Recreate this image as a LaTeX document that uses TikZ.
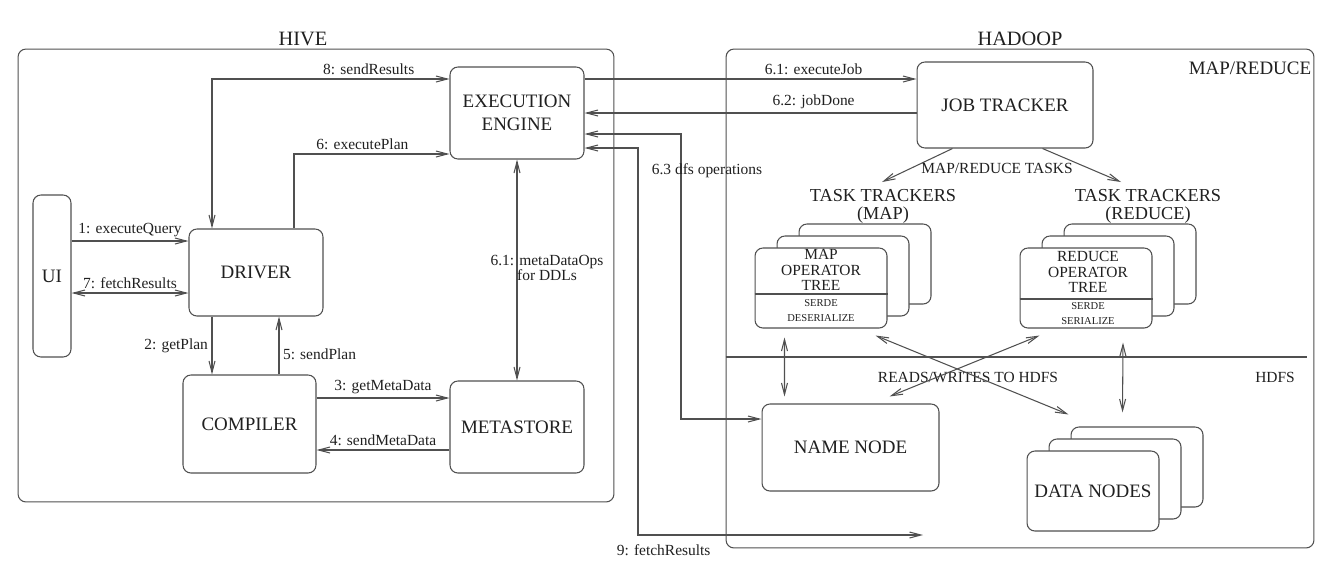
\documentclass[tikz,border=0pt]{standalone}
\usepackage{fontspec}
\setmainfont{Liberation Serif}
\usetikzlibrary{arrows.meta}

\definecolor{linegray}{HTML}{505050}
\definecolor{inkgray}{HTML}{202020}
\newcommand{\boxtxt}{\fontsize{10.8}{13}\selectfont}
\newcommand{\tttxt}{\fontsize{10.4}{10.2}\selectfont}
\newcommand{\lbltxt}{\fontsize{8.8}{8.8}\selectfont}
\newcommand{\optxt}{\fontsize{8.8}{8.8}\selectfont}
\newcommand{\titletxt}{\fontsize{11.6}{13}\selectfont}
\newcommand{\serdetxt}{\fontsize{6}{8.5}\selectfont}

\begin{document}
\begin{tikzpicture}[x=0.02cm, y=-0.02cm, line width=0.6pt, color=linegray,
    >={Straight Barb[length=6.5pt,width=3.4pt]},
    every node/.style={text=inkgray},
    box/.style={draw=linegray, rounded corners=4.5pt, fill=white, font=\boxtxt, align=center, inner sep=0pt},
    stackbox/.style={box, minimum width=2.64cm, minimum height=1.6cm},
    lbl/.style={font=\lbltxt, inner sep=2pt},
    title/.style={font=\titletxt}]

    \useasboundingbox (0,0) rectangle (1337,579);

    % Draw the two outer boxes
    \node[box, fill=none, minimum width=11.92cm, minimum height=9.06cm] (hive) at (316,275.5) {};
    \node[box, fill=none, minimum width=11.76cm, minimum height=9.98cm] (hadoop) at (1020,298.5) {};
    \node[title] (hivetitle) at (303,39) {HIVE};
    \node[title] (hadooptitle) at (1020,39) {HADOOP};
    \node[font=\boxtxt] (mrlbl) at (1250,68) {MAP/REDUCE};

    % Draw the hive boxes
    \node[box, minimum width=0.76cm, minimum height=3.24cm] (ui) at (52,276) {UI};
    \node[box, minimum width=2.68cm, minimum height=1.74cm] (driver) at (256,272.5) {DRIVER};
    \node[box, minimum width=2.66cm, minimum height=1.96cm] (compiler) at (249.5,424) {COMPILER};
    \node[box, minimum width=2.68cm, minimum height=1.84cm] (exec) at (517,113) {EXECUTION\\ENGINE};
    \node[box, minimum width=2.68cm, minimum height=1.84cm] (metastore) at (517,427) {METASTORE};

    % Draw the hadoop boxes
    \node[box, minimum width=3.52cm, minimum height=1.72cm] (jobtracker) at (1005,105) {JOB TRACKER};
    \node[box, minimum width=3.54cm, minimum height=1.74cm] (namenode) at (850.5,447.5) {NAME NODE};
    \node[font=\tttxt, align=center] (maptt) at (883,206) {TASK TRACKERS\\(MAP)};
    \node[font=\tttxt, align=center] (redtt) at (1148,206) {TASK TRACKERS\\(REDUCE)};

    % Draw the stack of map task trackers
    \foreach \k in {2,1}
        \node[stackbox] (mapb\k) at ({821+22*\k},{288-12*\k}) {};
    \node[stackbox] (mapfront) at (821,288) {};
    \node[font=\optxt, align=center] (maptree) at (821,270) {MAP\\OPERATOR\\TREE};
    \draw (mapfront.west |- 0,294) -- (mapfront.east |- 0,294);
    \node[font=\serdetxt, align=center] (mapserde) at (821,310.5) {SERDE\\DESERIALIZE};

    % Draw the stack of reduce task trackers
    \foreach \k in {2,1}
        \node[stackbox] (redb\k) at ({1086+22*\k},{288-12*\k}) {};
    \node[stackbox] (redfront) at (1086,288) {};
    \node[font=\optxt, align=center] (redtree) at (1088,272) {REDUCE\\OPERATOR\\TREE};
    \draw (redfront.west |- 0,299) -- (redfront.east |- 0,299);
    \node[font=\serdetxt, align=center] (redserde) at (1088,314) {SERDE\\SERIALIZE};

    % Draw the stack of data nodes
    \foreach \k in {2,1}
        \node[stackbox] (datab\k) at ({1093+22*\k},{491-12*\k}) {};
    \node[stackbox] (datafront) at (1093,491) {DATA NODES};

    % Draw the arrows between UI and DRIVER
    \draw[->] (ui.east |- 0,241) -- (driver.west |- 0,241) node[lbl, midway, above] {1: executeQuery};
    \draw[<->] (ui.east |- 0,293) -- (driver.west |- 0,293) node[lbl, midway, above] {7: fetchResults};

    % Draw the arrows between DRIVER and EXECUTION ENGINE
    \draw[<->] (driver.north -| 212,0) |- (exec.west |- 0,79) node[lbl, pos=0.83, above] {8: sendResults};
    \draw[->] (driver.north -| 294,0) |- (exec.west |- 0,154) node[lbl, pos=0.72, above] {6: executePlan};

    % Draw the arrows between DRIVER and COMPILER
    \draw[->] (driver.south -| 212,0) -- (compiler.north -| 212,0) node[lbl, midway, left] {2: getPlan};
    \draw[->] (compiler.north -| 279,0) -- (driver.south -| 279,0) node[lbl, pos=0.35, right] {5: sendPlan};

    % Draw the arrows between COMPILER and METASTORE
    \draw[->] (compiler.east |- 0,398) -- (metastore.west |- 0,398) node[lbl, midway, above] {3: getMetaData};
    \draw[->] (metastore.west |- 0,450) -- (compiler.east |- 0,450) node[lbl, midway, above] {4: sendMetaData};

    % Draw the arrow between EXECUTION ENGINE and METASTORE
    \draw[<->] (exec.south) -- (metastore.north)
        node[lbl, pos=0.49, xshift=0.6cm, align=center] {6.1: metaDataOps\\for DDLs};

    % Draw the arrows between EXECUTION ENGINE and JOB TRACKER
    \draw[->] (exec.east |- 0,79) -- (jobtracker.west |- 0,79) node[lbl, pos=0.69, above] {6.1: executeJob};
    \draw[->] (jobtracker.west |- 0,113) -- (exec.east |- 0,113) node[lbl, pos=0.31, above] {6.2: jobDone};

    % Draw the dfs operations and the fetched results
    \coordinate (dfsbend) at (681,419);
    \draw[<->] (exec.east |- 0,134) -| (dfsbend) -- (namenode.west |- dfsbend);
    \node[lbl] (dfslbl) at (707,171) {6.3 dfs operations};
    \coordinate (fetchbend) at (638,535);
    \coordinate (fetchend) at (923,535);
    \draw[<->] (exec.east |- 0,148) -| (fetchbend) -- (fetchend)
        node[lbl, pos=0.09, below=3pt] {9: fetchResults};

    % Draw the tasks sent by the JOB TRACKER
    \coordinate (maptip) at (882,182);
    \coordinate (redtip) at (1121,182);
    \draw[->] ([xshift=0.72cm]jobtracker.south west) -- (maptip);
    \draw[->] ([xshift=-1.02cm]jobtracker.south east) -- (redtip);
    \node[lbl] (mrtasks) at (997,168) {MAP/REDUCE TASKS};

    % Draw the HDFS part
    \draw[shorten >=0.14cm] (hadoop.west |- 0,357) -- (hadoop.east |- 0,357);
    \node[lbl] (hdfslbl) at (1275,377) {HDFS};
    \node[lbl] (rwlbl) at (968,377) {READS/WRITES TO HDFS};

    % Draw the reads and writes to HDFS
    \draw[<->] ([shift={(30,9)}]mapfront.south west) -- ([shift={(23,-7)}]namenode.north west);
    \draw[<->] ([shift={(37,14)}]redfront.south) -- ([shift={(-14.5,-14)}]datab2.north);
    \draw[<->] ([shift={(-12,7)}]mapfront.south east) -- ([shift={(-2,-12)}]datab2.north west);
    \draw[<->] ([shift={(20,7)}]redfront.south west) -- ([shift={(-50,-7)}]namenode.north east);

\end{tikzpicture}
\end{document}
